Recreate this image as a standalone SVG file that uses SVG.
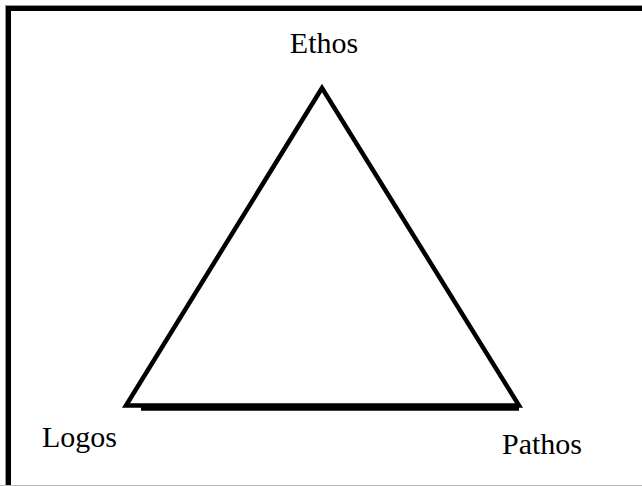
<svg xmlns="http://www.w3.org/2000/svg" width="642" height="486" viewBox="0 0 642 486">
<style>
.lbl{font-family:"Liberation Serif","Times New Roman",serif;font-size:30px;fill:#000}
.ln{stroke:#000;stroke-width:4.5;fill:none}
</style>
<rect x="0" y="0" width="642" height="486" fill="#fff"/>
<g id="frame">
<line x1="5" y1="5.5" x2="642" y2="5.5" stroke="#999" stroke-width="1"/>
<line x1="5.5" y1="5" x2="5.5" y2="486" stroke="#999" stroke-width="1"/>
<line x1="6" y1="8.5" x2="642" y2="8.5" stroke="#000" stroke-width="5"/>
<line x1="8.5" y1="6" x2="8.5" y2="486" stroke="#000" stroke-width="5"/>
<line x1="0" y1="485.5" x2="642" y2="485.5" stroke="#bbb" stroke-width="1"/>
</g>
<g id="triangle">
<polygon class="ln" points="322,88 126,405.5 519,405.5" stroke-linejoin="miter"/>
<line class="ln" x1="141" y1="408.5" x2="519" y2="408.5"/>
</g>
<g id="ethos"><text class="lbl" x="324" y="53" text-anchor="middle">Ethos</text></g>
<g id="logos"><text class="lbl" x="42" y="447">Logos</text></g>
<g id="pathos"><text class="lbl" x="502" y="454">Pathos</text></g>
</svg>
